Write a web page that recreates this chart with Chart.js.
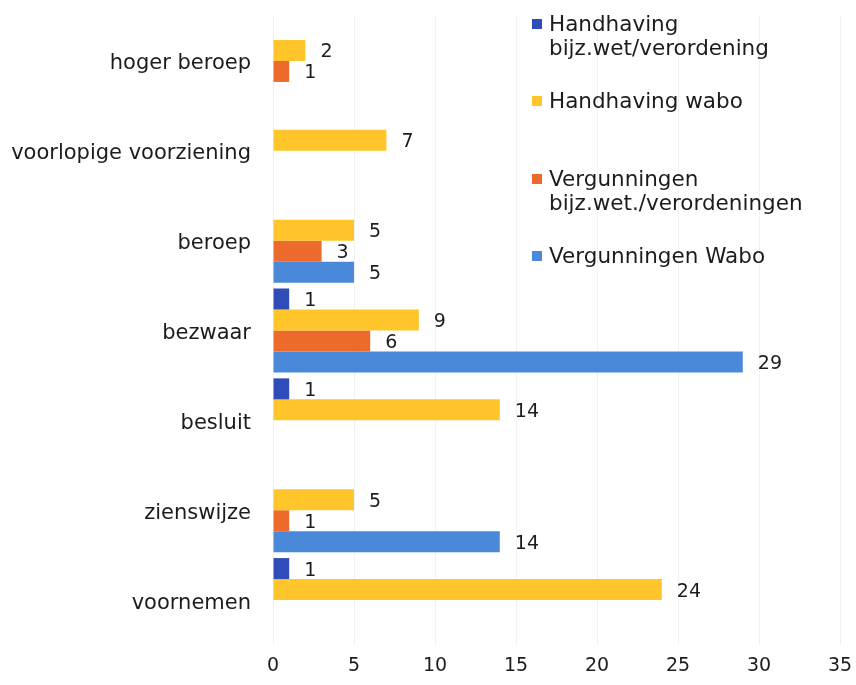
<!DOCTYPE html>
<html>
<head>
<meta charset="utf-8">
<script src="https://cdn.jsdelivr.net/npm/chart.js@4.4.0/dist/chart.umd.min.js"></script>
<style>
    body { margin: 0; background: #fff; }
    #wrap { position: relative; width: 856px; height: 685px; }
    .legend-item {
        position: absolute;
        left: 532px;
        font: 21.5px "DejaVu Sans", Verdana, sans-serif;
        line-height: 24px;
        color: #1c1c1c;
    }
    .legend-item i { position: absolute; left: 0; top: 7px; width: 10px; height: 10px; }
    .legend-item span { display: block; margin-left: 17px; white-space: nowrap; }
</style>
</head>
<body>
<div id="wrap">
    <canvas id="barChart" width="856" height="685"></canvas>
    <div id="legend"></div>
</div>
<script>
const categories = ['hoger beroep', 'voorlopige voorziening', 'beroep', 'bezwaar', 'besluit', 'zienswijze', 'voornemen'];

const handhavingBijzWet = [null, null, null, 1, 1, null, 1];
const handhavingWabo = [2, 7, 5, 9, 14, 5, 24];
const vergunningenBijzWet = [1, null, 3, 6, null, 1, null];
const vergunningenWabo = [null, null, 5, 29, null, 14, null];

const seriesNames = [
    ['Handhaving', 'bijz.wet/verordening'],
    ['Handhaving wabo'],
    ['Vergunningen', 'bijz.wet./verordeningen'],
    ['Vergunningen Wabo']
];
const seriesColors = ['#2f4db9', '#ffc52b', '#ec6a2b', '#4a89d9'];
const xTicks = [0, 5, 10, 15, 20, 25, 30, 35];

const fontFamily = '"DejaVu Sans", Verdana, sans-serif';

// value labels at the end of every bar
const valueLabels = {
    id: 'valueLabels',
    afterDatasetsDraw(chart) {
        const ctx = chart.ctx;
        ctx.save();
        ctx.font = '19px ' + fontFamily;
        ctx.fillStyle = '#1c1c1c';
        ctx.textAlign = 'left';
        ctx.textBaseline = 'middle';
        chart.data.datasets.forEach((ds, i) => {
            const meta = chart.getDatasetMeta(i);
            meta.data.forEach((bar, j) => {
                const v = ds.data[j];
                if (v === null || v === undefined) return;
                ctx.fillText(String(v), bar.x + 15, bar.y + 2);
            });
        });
        ctx.restore();
    }
};

new Chart(document.getElementById('barChart').getContext('2d'), {
    type: 'bar',
    data: {
        labels: categories,
        datasets: [
            { label: seriesNames[0].join(' '), data: handhavingBijzWet, backgroundColor: seriesColors[0] },
            { label: seriesNames[1].join(' '), data: handhavingWabo, backgroundColor: seriesColors[1] },
            { label: seriesNames[2].join(' '), data: vergunningenBijzWet, backgroundColor: seriesColors[2] },
            { label: seriesNames[3].join(' '), data: vergunningenWabo, backgroundColor: seriesColors[3] }
        ]
    },
    options: {
        indexAxis: 'y',
        responsive: false,
        animation: false,
        datasets: {
            bar: { categoryPercentage: 0.935, barPercentage: 1.0 }
        },
        layout: { padding: { top: 16, right: 16, left: 0, bottom: 0 } },
        plugins: {
            legend: { display: false },
            tooltip: { enabled: false }
        },
        scales: {
            x: {
                min: 0,
                max: 35,
                afterBuildTicks: scale => { scale.ticks = xTicks.map(v => ({ value: v })); },
                afterFit: scale => {
                    scale.height = 40;
                    scale.paddingRight = 0;
                },
                grid: { color: 'rgba(0,0,0,0.05)', drawTicks: false },
                border: { display: false },
                ticks: {
                    padding: 10,
                    color: '#1c1c1c',
                    font: { family: fontFamily, size: 19 }
                }
            },
            y: {
                afterFit: scale => {
                    scale.width = 273;
                    scale.paddingTop = 0;
                    scale.paddingBottom = 0;
                },
                grid: { display: false, drawTicks: false },
                border: { display: false },
                ticks: {
                    padding: 22,
                    labelOffset: 3,
                    color: '#1c1c1c',
                    font: { family: fontFamily, size: 21 }
                }
            }
        }
    },
    plugins: [valueLabels]
});

// legend on the right
const legendTops = [12, 89, 167, 244];
const legend = document.getElementById('legend');
seriesNames.forEach((lines, i) => {
    const item = document.createElement('div');
    item.className = 'legend-item';
    item.style.top = legendTops[i] + 'px';
    item.innerHTML = '<i style="background:' + seriesColors[i] + '"></i><span>' + lines.join('<br>') + '</span>';
    legend.appendChild(item);
});
</script>
</body>
</html>
